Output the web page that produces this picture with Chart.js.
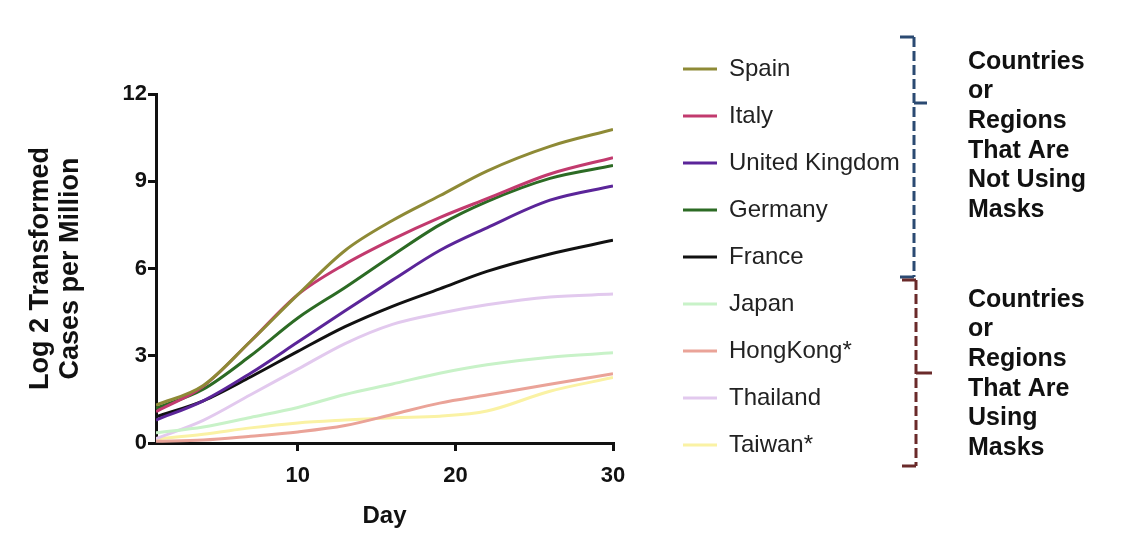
<!DOCTYPE html>
<html>
<head>
<meta charset="utf-8">
<script src="https://cdn.jsdelivr.net/npm/chart.js@4.4.1/dist/chart.umd.min.js"></script>
<style>
  html, body { margin: 0; padding: 0; background: #fff; }
  #wrap { width: 1125px; height: 539px; }
</style>
</head>
<body>
<div id="wrap"><canvas id="maskChart" width="1125" height="539"></canvas></div>
<script>
// values (log2 cases per million)
const days = [1, 4, 7, 10, 13, 16, 19, 22, 26, 30];
const spain = [1.3, 1.98, 3.5, 5.1, 6.62, 7.65, 8.5, 9.35, 10.2, 10.78];
const italy = [1.08, 1.95, 3.5, 5.1, 6.15, 7.0, 7.75, 8.4, 9.25, 9.81];
const unitedKingdom = [0.79, 1.45, 2.4, 3.47, 4.55, 5.6, 6.62, 7.4, 8.35, 8.84];
const germany = [1.19, 1.85, 3.0, 4.3, 5.35, 6.45, 7.5, 8.3, 9.1, 9.54];
const france = [0.9, 1.45, 2.27, 3.15, 4.0, 4.7, 5.3, 5.9, 6.5, 6.97];
const japan = [0.35, 0.55, 0.88, 1.22, 1.67, 2.03, 2.4, 2.69, 2.95, 3.1];
const hongKong = [0.06, 0.1, 0.23, 0.38, 0.6, 0.98, 1.37, 1.65, 2.02, 2.38];
const thailand = [0.15, 0.78, 1.66, 2.54, 3.42, 4.08, 4.46, 4.75, 5.02, 5.12];
const taiwan = [0.14, 0.3, 0.52, 0.69, 0.79, 0.87, 0.92, 1.1, 1.78, 2.25];

const countries = ["Spain", "Italy", "United Kingdom", "Germany", "France",
  "Japan", "HongKong*", "Thailand", "Taiwan*"];
const countryColors = ["#8e8a36", "#c23a6e", "#5b2599", "#2c6b24", "#111111",
  "#c8f2c8", "#eaa398", "#e2c9ee", "#faf2a4"];
const seriesList = [spain, italy, unitedKingdom, germany, france,
  japan, hongKong, thailand, taiwan];

const xTicks = [10, 20, 30];
const yTicks = [0, 3, 6, 9, 12];
const notUsingMasks = ["Countries", "or", "Regions", "That Are", "Not Using", "Masks"];
const usingMasks = ["Countries", "or", "Regions", "That Are", "Using", "Masks"];

Chart.defaults.font.family = "'Liberation Sans', Arial, sans-serif";
Chart.defaults.color = "#111";

const ctx = document.getElementById("maskChart").getContext("2d");

function drawBracket(ctx, x, top, bottom, notchY, notchX, color) {
  ctx.save();
  ctx.strokeStyle = color;
  ctx.lineWidth = 3;
  ctx.setLineDash([10, 4]);
  ctx.beginPath();
  ctx.moveTo(x, top);
  ctx.lineTo(x, bottom);
  ctx.stroke();
  ctx.setLineDash([]);
  ctx.beginPath();
  ctx.moveTo(x - 14, top);
  ctx.lineTo(x, top);
  ctx.moveTo(x - 14, bottom);
  ctx.lineTo(x, bottom);
  ctx.moveTo(x, notchY);
  ctx.lineTo(notchX, notchY);
  ctx.stroke();
  ctx.restore();
}

// brackets + group captions to the right of the legend
const groupPlugin = {
  id: "groupBrackets",
  afterLayout(chart) {
    // legend box is capped narrow by the layout; widen it so labels are not clipped
    const lg = chart.legend;
    lg.width = 260;
    lg.right = lg.left + 260;
  },
  afterDraw(chart) {
    const { ctx } = chart;
    drawBracket(ctx, 914, 37, 277, 103, 927, "#2b4a72");
    drawBracket(ctx, 916, 280, 466, 373, 932, "#6a2a2a");
    ctx.save();
    ctx.font = "bold 25px 'Liberation Sans', Arial, sans-serif";
    ctx.fillStyle = "#111";
    ctx.textBaseline = "middle";
    notUsingMasks.forEach((t, i) => ctx.fillText(t, 968, 62 + i * 29.6));
    usingMasks.forEach((t, i) => ctx.fillText(t, 968, 300 + i * 29.6));
    ctx.restore();
  },
};

const axisLine = { display: true, color: "#111", width: 3 };
const tickMarks = { drawOnChartArea: false, drawTicks: true, tickLength: 8, color: "#111", lineWidth: 3 };

new Chart(ctx, {
  type: "line",
  data: {
    datasets: countries.map((name, i) => ({
      label: name,
      data: days.map((d, j) => ({ x: d, y: seriesList[i][j] })),
      borderColor: countryColors[i],
      backgroundColor: countryColors[i],
      borderWidth: 3,
      pointRadius: 0,
      fill: false,
      tension: 0.4,
      cubicInterpolationMode: "monotone",
      xAxisID: "x",
      yAxisID: "y",
    })),
  },
  options: {
    responsive: false,
    animation: false,
    devicePixelRatio: 1,
    layout: { padding: { left: 0, right: 365, top: 0, bottom: 0 } },
    plugins: {
      tooltip: { enabled: false },
      title: {
        display: true,
        text: "",
        fullSize: false,
        font: { size: 10, lineHeight: 1 },
        padding: { top: 84, bottom: 0 },
      },
      legend: {
        position: "right",
        align: "start",
        maxWidth: 100,
        title: { display: true, text: "", font: { size: 10, lineHeight: 1 }, padding: { top: 24, bottom: 0 } },
        labels: {
          boxWidth: 34,
          boxHeight: 3,
          padding: 23,
          color: "#222",
          font: { size: 24 },
          generateLabels(chart) {
            const items = Chart.defaults.plugins.legend.labels.generateLabels(chart);
            items.forEach((it) => {
              it.lineWidth = 0;
              it.fillStyle = it.strokeStyle;
            });
            return items;
          },
        },
      },
    },
    scales: {
      x: {
        type: "linear",
        min: 1,
        max: 30,
        afterBuildTicks: (s) => { s.ticks = xTicks.map((v) => ({ value: v })); },
        afterFit: (s) => { s.height = 96; },
        border: axisLine,
        grid: tickMarks,
        ticks: { color: "#111", padding: 12, maxRotation: 0, font: { size: 22, weight: "bold" } },
        title: {
          display: true,
          text: "Day",
          color: "#111",
          font: { size: 24, weight: "bold", lineHeight: 1.2 },
          padding: { top: 0, bottom: 8 },
        },
      },
      y: {
        type: "linear",
        position: "left",
        min: 0,
        max: 12,
        afterBuildTicks: (s) => { s.ticks = yTicks.map((v) => ({ value: v })); },
        afterFit: (s) => { s.width = 156; },
        border: axisLine,
        grid: tickMarks,
        ticks: { color: "#111", padding: 1, font: { size: 22, weight: "bold" } },
        title: {
          display: true,
          text: ["Log 2 Transformed", "Cases per Million"],
          color: "#111",
          font: { size: 27, weight: "bold", lineHeight: 1.1 },
          padding: { top: 26, bottom: 0 },
        },
      },
      gap: {
        type: "linear",
        position: "right",
        display: true,
        grid: { display: false },
        border: { display: false },
        ticks: { display: false },
        afterFit: (s) => { s.width = 47; },
      },
    },
  },
  plugins: [groupPlugin],
});
</script>
</body>
</html>
